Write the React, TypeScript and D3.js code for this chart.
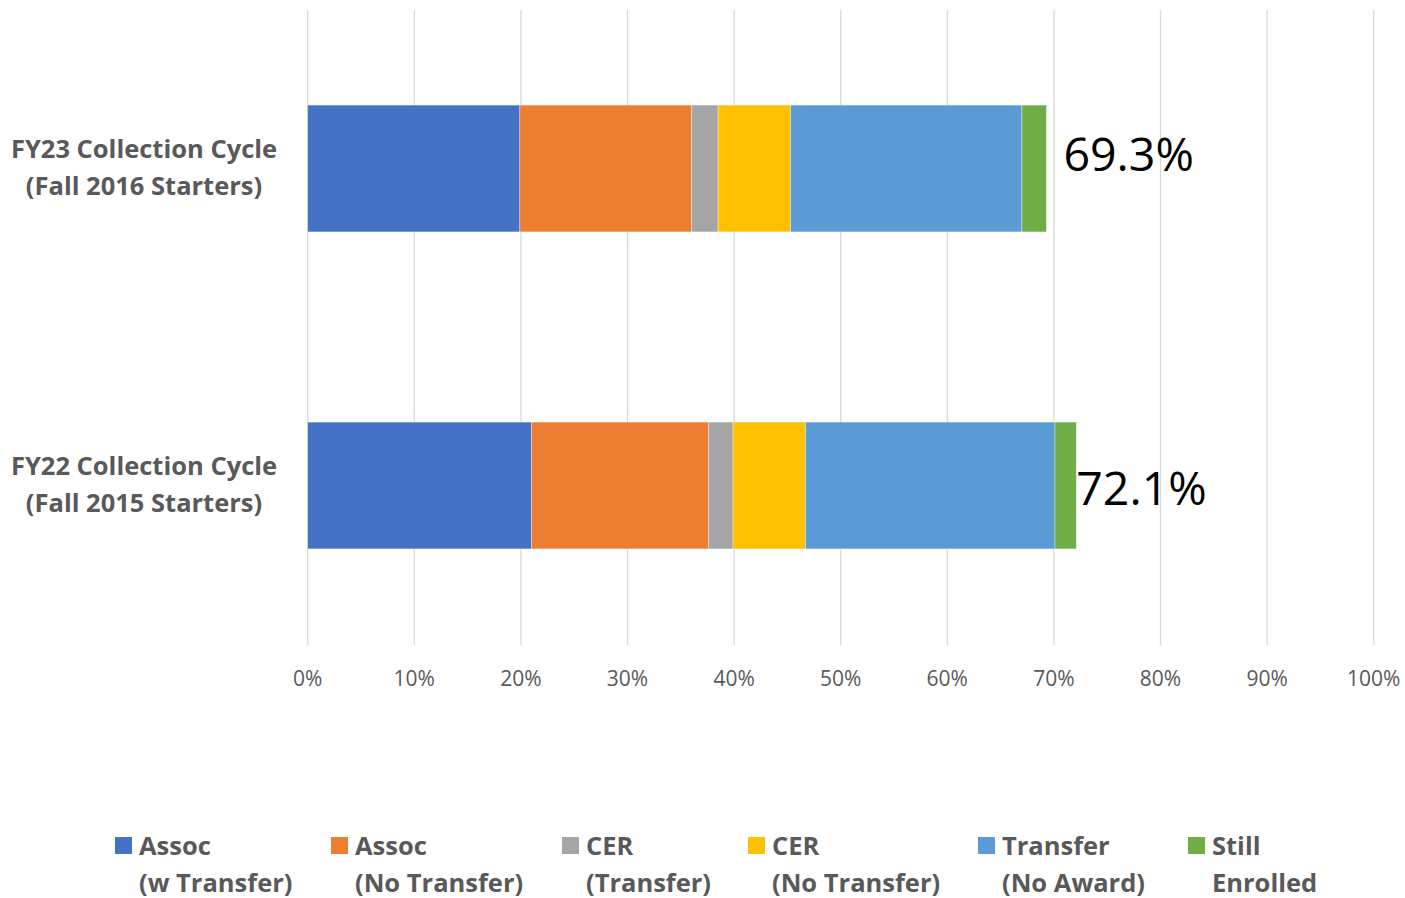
import React from "react";
import * as d3 from "d3";

const categories = ["FY23 Collection Cycle|(Fall 2016 Starters)", "FY22 Collection Cycle|(Fall 2015 Starters)"];
const seriesNames = ["Assoc|(w Transfer)", "Assoc|(No Transfer)", "CER|(Transfer)", "CER|(No Transfer)", "Transfer|(No Award)", "Still|Enrolled"];
const seriesColors = ["#4472C4", "#ED7D31", "#A5A5A5", "#FFC000", "#5B9BD5", "#70AD47"];
const fy23Values = [19.9, 16.1, 2.5, 6.8, 21.7, 2.3];
const fy22Values = [21.0, 16.6, 2.3, 6.8, 23.4, 2.0];
const totalLabels = ["69.3%", "72.1%"];
const xTicks = [0, 10, 20, 30, 40, 50, 60, 70, 80, 90, 100];
const legendX = [115, 331, 562, 748, 978, 1188];

export default function App() {
  const W = 1405, H = 898;
  const x = d3.scaleLinear().domain([0, 100]).range([307.7, 1373.7]);
  const y = d3.scaleBand().domain(categories).range([10, 644]).paddingInner(0.6).paddingOuter(0.3);
  const rows = [fy23Values, fy22Values];
  const stackData = categories.map((c, i) => {
    const o: any = { cat: c };
    seriesNames.forEach((s, j) => (o[s] = rows[i][j]));
    return o;
  });
  const stacked = d3.stack().keys(seriesNames)(stackData as any);
  const labelFont = "'Open Sans', sans-serif";
  const bw = y.bandwidth();
  return (
    <svg width={W} height={H} style={{ position: "absolute", left: 0, top: 0, background: "#fff" }} fontFamily={labelFont}>
      {xTicks.map((t) => (
        <line key={t} x1={x(t)} x2={x(t)} y1={10} y2={645} stroke="#D9D9D9" strokeWidth={1.3} />
      ))}
      {stacked.map((layer, j) =>
        layer.map((d, i) => (
          <rect
            key={j + "-" + i}
            x={x(d[0])}
            y={y(categories[i])!}
            width={x(d[1]) - x(d[0])}
            height={bw}
            fill={seriesColors[j]}
            stroke="#ffffff"
            strokeOpacity={0.5}
            strokeWidth={0.7}
          />
        ))
      )}
      {categories.map((c, i) => {
        const [l1, l2] = c.split("|");
        const cy = y(c)! + bw / 2;
        return (
          <text key={c} x={144} textAnchor="middle" fontWeight="bold" fontSize={25.5} fill="#595959">
            <tspan x={144} y={cy - 11}>{l1}</tspan>
            <tspan x={144} y={cy + 26}>{l2}</tspan>
          </text>
        );
      })}
      {categories.map((c, i) => {
        const total = d3.sum(rows[i]);
        const cy = y(c)! + bw / 2;
        const offs = i === 0 ? [17, 2] : [0, 19];
        return (
          <text key={"t" + i} x={x(total) + offs[0]} y={cy + offs[1]} fontSize={46.5} fill="#000" fontFamily="'Open Sans', sans-serif">
            {totalLabels[i]}
          </text>
        );
      })}
      {xTicks.map((t) => (
        <text key={"l" + t} x={x(t)} y={686} textAnchor="middle" fontSize={21} fill="#595959" fontFamily="'Open Sans', sans-serif">
          {t + "%"}
        </text>
      ))}
      {seriesNames.map((s, j) => {
        const [l1, l2] = s.split("|");
        return (
          <g key={s}>
            <rect x={legendX[j]} y={837} width={17} height={17} fill={seriesColors[j]} />
            <text fontWeight="bold" fontSize={25.5} fill="#595959">
              <tspan x={legendX[j] + 24} y={855}>{l1}</tspan>
              <tspan x={legendX[j] + 24} y={892}>{l2}</tspan>
            </text>
          </g>
        );
      })}
    </svg>
  );
}
